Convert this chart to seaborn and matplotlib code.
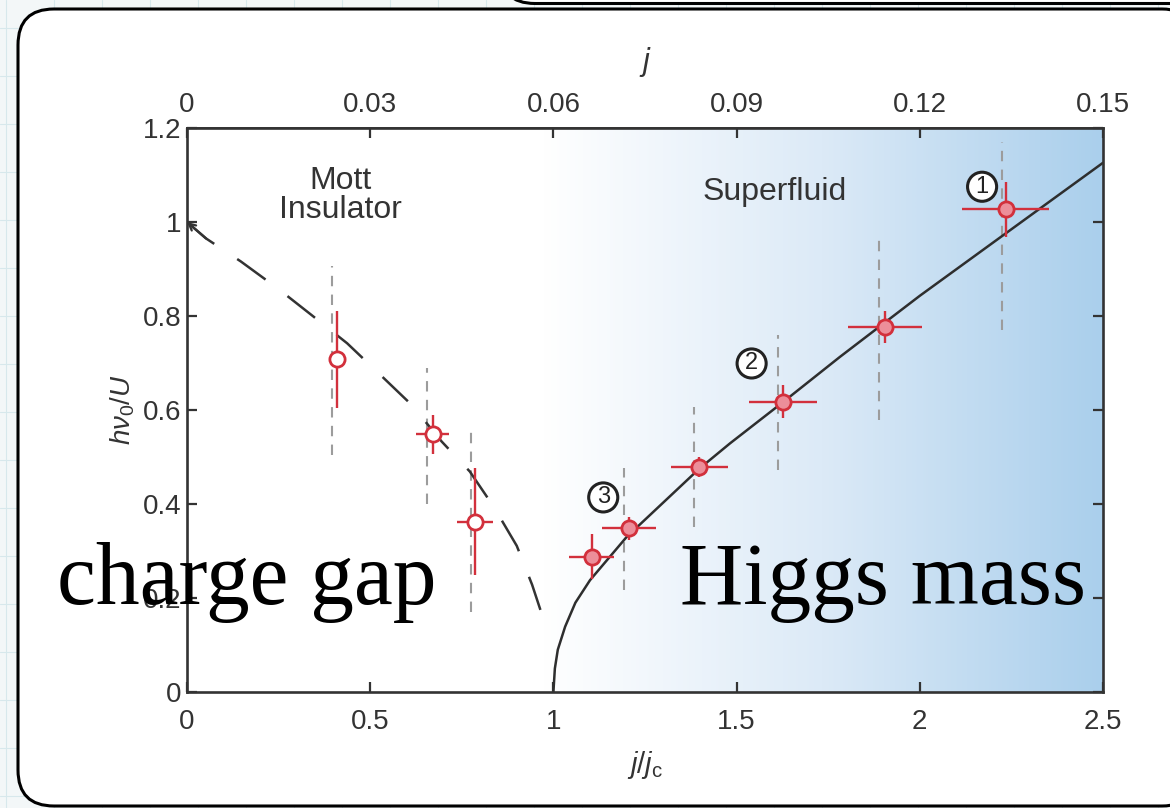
import numpy as np
import matplotlib
matplotlib.use("Agg")
import matplotlib.pyplot as plt
from matplotlib.patches import FancyBboxPatch
from matplotlib.colors import LinearSegmentedColormap
from matplotlib.lines import Line2D
import seaborn as sns

# ---------------- data ----------------
# theory: Mott charge gap (dashed) and Higgs mass (solid), x = j/jc, y = h nu0 / U
mott_curve_x = [0.0, 0.052, 0.147, 0.247, 0.34, 0.437, 0.522, 0.613, 0.695, 0.772, 0.838, 0.90, 0.942, 0.983]
mott_curve_y = [1.0, 0.965, 0.916, 0.859, 0.802, 0.742, 0.679, 0.611, 0.533, 0.469, 0.393, 0.311, 0.228, 0.131]

higgs_curve_x = [1.0, 1.004, 1.012, 1.032, 1.06, 1.10, 1.2, 1.327, 1.398, 1.482, 1.627, 1.782, 2.0, 2.219, 2.5]
higgs_curve_y = [0.0, 0.05, 0.09, 0.139, 0.19, 0.238, 0.33, 0.423, 0.475, 0.529, 0.617, 0.713, 0.843, 0.967, 1.126]

# measured points, Mott insulator (open)
mott_x = [0.409, 0.671, 0.786]
mott_y = [0.708, 0.548, 0.362]
mott_xerr = [0.0, 0.045, 0.05]
mott_yerr = [0.103, 0.041, 0.114]

# measured points, superfluid (filled)
sf_x = [1.104, 1.207, 1.398, 1.627, 1.905, 2.234]
sf_y = [0.288, 0.348, 0.479, 0.618, 0.777, 1.027]
sf_xerr = [0.062, 0.073, 0.078, 0.093, 0.10, 0.119]
sf_yerr = [0.048, 0.024, 0.022, 0.035, 0.034, 0.058]

# grey dashed guides (x, low, high)
guide_x = [0.397, 0.656, 0.775, 1.193, 1.384, 1.614, 1.889, 2.223]
guide_lo = [0.504, 0.401, 0.171, 0.217, 0.351, 0.472, 0.579, 0.770]
guide_hi = [0.906, 0.689, 0.560, 0.476, 0.607, 0.760, 0.976, 1.171]

# circled labels
circ_labels = ["1", "2", "3"]
circ_x = [2.17, 1.541, 1.136]
circ_y = [1.075, 0.699, 0.414]

jc = 0.06
x_ticks = [0, 0.5, 1, 1.5, 2, 2.5]
x_ticklabels = ["0", "0.5", "1", "1.5", "2", "2.5"]
y_ticks = [0, 0.2, 0.4, 0.6, 0.8, 1.0, 1.2]
y_ticklabels = ["0", "0.2", "0.4", "0.6", "0.8", "1", "1.2"]
top_ticks = [0, 0.03, 0.06, 0.09, 0.12, 0.15]
top_ticklabels = ["0", "0.03", "0.06", "0.09", "0.12", "0.15"]

# ---------------- style ----------------
sns.set_theme(style="ticks")
plt.rcParams["font.family"] = ["Liberation Sans", "DejaVu Sans"]
plt.rcParams["mathtext.fontset"] = "custom"
plt.rcParams["mathtext.it"] = "Liberation Sans:italic"
plt.rcParams["mathtext.rm"] = "Liberation Sans"

W, H = 1170, 808
fig = plt.figure(figsize=(W / 100, H / 100), dpi=100)
fig.patch.set_facecolor("#f3f7f8")

# faint graph-paper background
for gx in range(6, W, 48):
    fig.add_artist(Line2D([gx / W, gx / W], [0, 1], color="#d7e8ec", lw=0.8, zorder=0))
for gy in range(12, H, 48):
    fig.add_artist(Line2D([0, 1], [gy / H, gy / H], color="#d7e8ec", lw=0.8, zorder=0))

# slide frames
fig.add_artist(FancyBboxPatch((5.0, 8.045), 7.2, 1.0, boxstyle="round,pad=0,rounding_size=0.35",
                              transform=fig.dpi_scale_trans, fc="white", ec="black", lw=2.2, zorder=1))
fig.add_artist(FancyBboxPatch((0.18, 0.02), 11.8, 7.97, boxstyle="round,pad=0,rounding_size=0.36",
                              transform=fig.dpi_scale_trans, fc="white", ec="black", lw=2.2, zorder=1))

ax = fig.add_axes([187 / W, 1 - 692 / H, (1103 - 187) / W, (692 - 128) / H])
ax.set_facecolor("white")
ax.set_zorder(2)

# superfluid gradient
cmap = LinearSegmentedColormap.from_list("sf", ["#ffffff", "#dceaf7", "#aacfec"])
ax.imshow(np.linspace(0, 1, 512)[None, :], extent=[0.97, 2.5, 0, 1.2], aspect="auto",
          cmap=cmap, zorder=0, interpolation="bilinear")

# guides
ax.vlines(guide_x, guide_lo, guide_hi, colors="#9c9c9c", linestyles=(0, (5, 4)), lw=1.5, zorder=1)

# theory curves
sns.lineplot(x=mott_curve_x, y=mott_curve_y, ax=ax, sort=False, color="#333333", lw=1.8,
             linestyle=(0, (14, 11)), zorder=2)
sns.lineplot(x=higgs_curve_x, y=higgs_curve_y, ax=ax, sort=False, color="#2e2e2e", lw=1.8, zorder=2)
ax.annotate("", xy=(mott_curve_x[0], mott_curve_y[0]), xytext=(mott_curve_x[1], mott_curve_y[1]),
            arrowprops=dict(arrowstyle="->", lw=1.6, color="#333333", mutation_scale=12,
                            shrinkA=0, shrinkB=0), zorder=2)

# data
red = "#d2303c"
ax.errorbar(mott_x, mott_y, xerr=mott_xerr, yerr=mott_yerr, fmt="none", ecolor=red, elinewidth=1.7,
            capsize=0, zorder=3)
ax.errorbar(sf_x, sf_y, xerr=sf_xerr, yerr=sf_yerr, fmt="none", ecolor=red, elinewidth=1.7,
            capsize=0, zorder=3)
sns.scatterplot(x=mott_x, y=mott_y, ax=ax, s=120, marker="o", facecolor="white", edgecolor=red,
                linewidth=2.0, zorder=4)
sns.scatterplot(x=sf_x, y=sf_y, ax=ax, s=120, marker="o", facecolor="#ec8e9a", edgecolor=red,
                linewidth=2.0, zorder=4)

# circled numbers
for lab, cx, cy in zip(circ_labels, circ_x, circ_y):
    ax.text(cx, cy, lab, ha="center", va="center", fontsize=17, color="#222222", zorder=5,
            bbox=dict(boxstyle="circle,pad=0.15", fc="white", ec="#222222", lw=2.2))

# region labels
ax.text(0.418, 1.057, "Mott\nInsulator", ha="center", va="center", fontsize=23, color="#333333",
        linespacing=0.95, zorder=5)
ax.text(1.605, 1.064, "Superfluid", ha="center", va="center", fontsize=23, color="#333333", zorder=5)

# axes styling
ax.set_xlim(0, 2.5)
ax.set_ylim(0, 1.2)
ax.set_xticks(x_ticks)
ax.set_xticklabels(x_ticklabels)
ax.set_yticks(y_ticks)
ax.set_yticklabels(y_ticklabels)
ax.tick_params(axis="both", direction="in", length=7, width=1.6, color="#333333",
               labelsize=20, labelcolor="#333333")
ax.tick_params(axis="x", pad=12)
ax.tick_params(axis="y", pad=4)
ax.tick_params(right=True, which="both")
for sp in ax.spines.values():
    sp.set_linewidth(1.9)
    sp.set_color("#333333")
    sp.set_visible(True)

sec = ax.secondary_xaxis("top", functions=(lambda x: x * jc, lambda j: j / jc))
sec.set_xticks(top_ticks)
sec.set_xticklabels(top_ticklabels)
sec.tick_params(direction="in", length=7, width=1.6, color="#333333", labelsize=20,
                labelcolor="#333333", pad=7)
sec.set_xlabel(r"$j$", fontsize=22, color="#333333", labelpad=16)

ax.set_xlabel(r"$j/j_\mathrm{c}$", fontsize=21, color="#333333", labelpad=10)
ax.set_ylabel(r"$h\nu_0/U$", fontsize=20, color="#333333", labelpad=4)

# slide annotations
fig.text(57 / W, 1 - 604 / H, "charge gap", fontsize=63, family=["Liberation Serif", "DejaVu Serif"],
         color="black", ha="left", va="baseline", zorder=10)
fig.text(1086 / W, 1 - 604 / H, "Higgs mass", fontsize=63, family=["Liberation Serif", "DejaVu Serif"],
         color="black", ha="right", va="baseline", zorder=10)

fig.savefig("out.png", dpi=100, facecolor=fig.get_facecolor())
